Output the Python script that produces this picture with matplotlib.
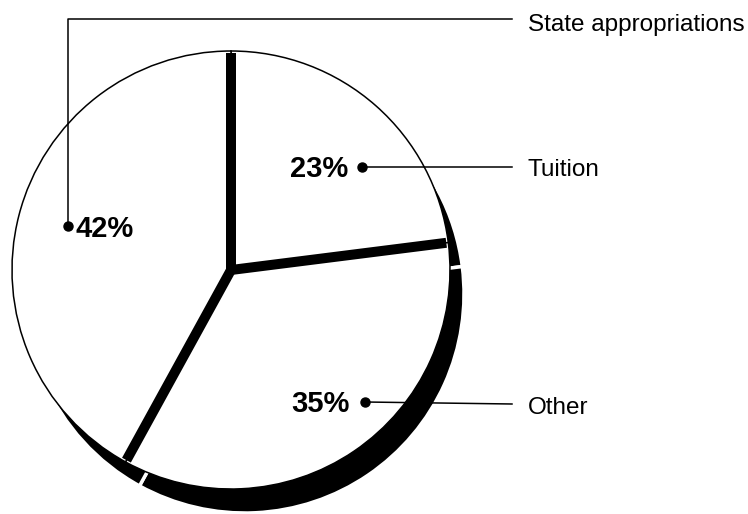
import matplotlib.pyplot as plt
import numpy as np

# data
labels = ["Tuition", "Other", "State appropriations"]
shares = [23, 35, 42]

W, H = 748, 514
CX, CY, R = 231, 270, 219          # pie centre / radius in pixels
SHADOW_DX, SHADOW_DY = 14, 24      # shadow offset (pixels, down-right)


def Y(py):
    """pixel row -> data y"""
    return H - py


fig = plt.figure(figsize=(W / 100, H / 100), dpi=100)
ax = fig.add_axes([0, 0, 1, 1])
plt.rcParams["font.family"] = ["Liberation Sans", "DejaVu Sans"]

# shadow
ax.pie(shares, startangle=90, counterclock=False, radius=R,
       center=(CX + SHADOW_DX, Y(CY + SHADOW_DY)), frame=True,
       colors=["black"] * len(shares),
       wedgeprops=dict(edgecolor="white", linewidth=2.5))

# pie body
wedges, _ = ax.pie(shares, startangle=90, counterclock=False, radius=R,
                   center=(CX, Y(CY)), frame=True,
                   colors=["white"] * len(shares),
                   wedgeprops=dict(edgecolor="black", linewidth=1.1))

# thick dividers between slices
for w in wedges:
    a = np.deg2rad(w.theta1)
    ax.plot([CX, CX + (R - 2) * np.cos(a)], [Y(CY), Y(CY) + (R - 2) * np.sin(a)],
            color="black", lw=7.2, solid_capstyle="butt", zorder=5)

# labels and leaders
lab_x = 528
line_kw = dict(color="black", lw=1.1, zorder=6)
dot_kw = dict(marker="o", ms=6.5, color="black", zorder=7)

# Tuition
ax.plot([362, 512], [Y(167), Y(167)], **line_kw)
ax.plot([362], [Y(167)], **dot_kw)
ax.text(348, Y(177), f"{shares[0]}%", ha="right", va="baseline",
        fontsize=21, fontweight="bold", zorder=8)
ax.text(lab_x, Y(176), labels[0], ha="left", va="baseline", fontsize=17.5)

# Other
ax.plot([365, 512], [Y(402), Y(404)], **line_kw)
ax.plot([365], [Y(402)], **dot_kw)
ax.text(350, Y(412), f"{shares[1]}%", ha="right", va="baseline",
        fontsize=21, fontweight="bold", zorder=8)
ax.text(lab_x, Y(414), labels[1], ha="left", va="baseline", fontsize=17.5)

# State appropriations
ax.plot([68, 68, 512], [Y(226), Y(19), Y(19)], **line_kw)
ax.plot([68], [Y(226)], **dot_kw)
ax.text(76, Y(237), f"{shares[2]}%", ha="left", va="baseline",
        fontsize=21, fontweight="bold", zorder=8)
ax.text(lab_x, Y(31), labels[2], ha="left", va="baseline", fontsize=17.5)

ax.set_xlim(0, W)
ax.set_ylim(0, H)
ax.set_aspect("equal")
ax.axis("off")

fig.savefig("out.png", dpi=100)
